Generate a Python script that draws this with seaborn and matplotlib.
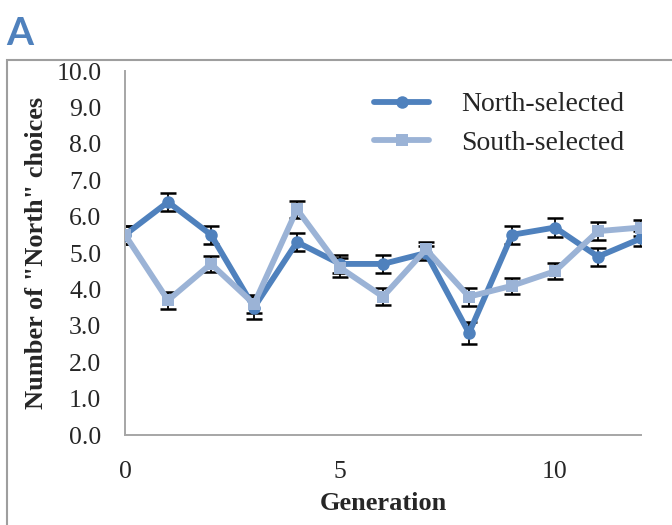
import numpy as np
import pandas as pd
import matplotlib
matplotlib.use("Agg")
import matplotlib.pyplot as plt
import seaborn as sns
from matplotlib.patches import Rectangle

# ---------------------------
# Data
# ---------------------------
generation = list(range(13))
north_mean = [5.5, 6.4, 5.5, 3.5, 5.3, 4.7, 4.7, 5.0, 2.8, 5.5, 5.7, 4.9, 5.4]
north_err = [0.25, 0.25, 0.25, 0.3, 0.25, 0.25, 0.25, 0.2, 0.3, 0.25, 0.25, 0.25, 0.2]
south_mean = [5.5, 3.7, 4.7, 3.6, 6.2, 4.6, 3.8, 5.1, 3.8, 4.1, 4.5, 5.6, 5.7]
south_err = [0.25, 0.23, 0.23, 0.25, 0.23, 0.25, 0.23, 0.2, 0.25, 0.22, 0.22, 0.25, 0.22]
series_names = ["North-selected", "South-selected"]
y_ticks = np.arange(0, 10.01, 1.0)
x_ticks = [0, 5, 10]

df = pd.DataFrame({
    "Generation": generation * 2,
    "value": north_mean + south_mean,
    "group": [series_names[0]] * 13 + [series_names[1]] * 13,
})

sns.set_style("white")
serif = ["Liberation Serif", "DejaVu Serif"]

fig = plt.figure(figsize=(6.72, 5.25), dpi=100)
ax = fig.add_axes([125 / 672, 1 - 435 / 525, 516 / 672, 364 / 525])

colors = {"North-selected": "#4F81BD", "South-selected": "#9BB3D6"}

# error bars first, so lines sit on top
ax.errorbar(generation, north_mean, yerr=north_err, fmt="none",
            ecolor="black", elinewidth=1.3, capsize=5.5, capthick=1.8, zorder=1)
ax.errorbar(generation, south_mean, yerr=south_err, fmt="none",
            ecolor="black", elinewidth=1.3, capsize=5.5, capthick=1.8, zorder=1)

sns.lineplot(data=df, x="Generation", y="value", hue="group", style="group",
             markers={"North-selected": "o", "South-selected": "s"},
             dashes=False, palette=colors, linewidth=4.2, markersize=9,
             markeredgewidth=0, ax=ax, zorder=3)

ax.set_xlim(0, 12)
ax.set_ylim(0, 10)
ax.set_xticks(x_ticks)
ax.set_yticks(y_ticks)
ax.set_yticklabels([f"{v:.1f}" for v in y_ticks], family=serif, fontsize=18.5)
ax.set_xticklabels([str(v) for v in x_ticks], family=serif, fontsize=18.5)
ax.tick_params(axis="y", length=0, pad=17)
ax.tick_params(axis="x", length=0, pad=19)

for side in ["top", "right"]:
    ax.spines[side].set_visible(False)
for side in ["left", "bottom"]:
    ax.spines[side].set_color("#A6A6A6")
    ax.spines[side].set_linewidth(1.4)

ax.set_xlabel("Generation", family=serif, fontsize=19, fontweight="bold", labelpad=6)
ax.set_ylabel('Number of "North" choices', family=serif, fontsize=19,
              fontweight="bold", labelpad=6)

leg = ax.legend(frameon=False, loc="upper left",
                bbox_to_anchor=(360 / 672, 1 - 78 / 525),
                bbox_transform=fig.transFigure, borderpad=0,
                prop={"family": serif, "size": 20}, handlelength=2.0,
                handletextpad=1.15, labelspacing=0.48)
for h in leg.legend_handles:
    h.set_linewidth(4.2)

# outer panel border and panel letter
fig.patches.append(Rectangle((7 / 672, -0.2), 2.0, 0.2 + 1 - 60 / 525,
                             transform=fig.transFigure, fill=False,
                             edgecolor="#9E9E9E", linewidth=1.5))
fig.text(6 / 672, 1 - 45 / 525, "A", color="#4F81BD", fontsize=28,
         fontweight="bold", family=["Lato", "DejaVu Sans"], ha="left", va="baseline")

fig.savefig("out.png", dpi=100)
